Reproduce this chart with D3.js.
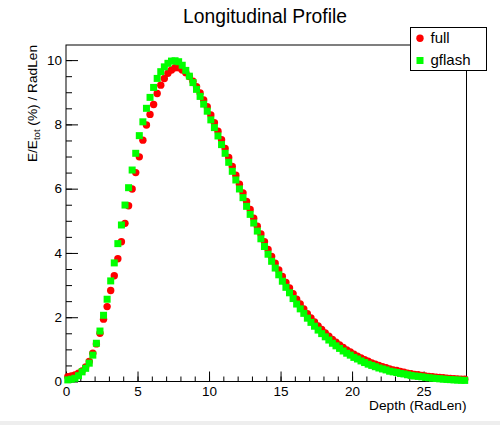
<!DOCTYPE html>
<html>
<head>
<meta charset="utf-8">
<script src="https://cdn.jsdelivr.net/npm/d3@7"></script>
<style>
  body { margin: 0; background: #fff; }
  text { font-family: "Liberation Sans", Arial, sans-serif; }
</style>
</head>
<body>
<div id="svgzone"></div>
<script>
// bins of 0.25 RadLen from 0 to 28, values in % per RadLen
let binWidth = 0.25;

let fullValues = [0.15, 0.17, 0.20, 0.26, 0.33, 0.45, 0.62, 0.88, 1.17, 1.50,
    1.94, 2.33, 2.83, 3.29, 3.82, 4.35, 4.92, 5.47, 5.99, 6.50,
    6.99, 7.51, 7.98, 8.31, 8.62, 8.96, 9.22, 9.43, 9.59, 9.69,
    9.76, 9.76, 9.69, 9.61, 9.49, 9.34, 9.17, 8.98, 8.76, 8.55,
    8.29, 8.05, 7.79, 7.52, 7.25, 6.97, 6.69, 6.42, 6.14, 5.87,
    5.60, 5.35, 5.08, 4.83, 4.59, 4.35, 4.11, 3.89, 3.68, 3.47,
    3.27, 3.08, 2.91, 2.73, 2.56, 2.41, 2.26, 2.11, 1.98, 1.85,
    1.73, 1.62, 1.51, 1.41, 1.31, 1.22, 1.14, 1.06, 0.98, 0.92,
    0.85, 0.79, 0.73, 0.68, 0.63, 0.58, 0.54, 0.50, 0.46, 0.43,
    0.39, 0.36, 0.34, 0.31, 0.29, 0.26, 0.24, 0.22, 0.21, 0.19,
    0.175, 0.16, 0.148, 0.136, 0.125, 0.115, 0.105, 0.097, 0.089, 0.082,
    0.075, 0.069];

let gflashValues = [0.05, 0.07, 0.10, 0.18, 0.30, 0.41, 0.57, 0.82, 1.19, 1.57,
    2.06, 2.56, 3.13, 3.69, 4.29, 4.87, 5.49, 6.03, 6.58, 7.10,
    7.65, 8.08, 8.50, 8.84, 9.15, 9.43, 9.64, 9.79, 9.90, 9.97,
    9.98, 9.95, 9.84, 9.68, 9.50, 9.30, 9.09, 8.87, 8.63, 8.41,
    8.14, 7.90, 7.64, 7.37, 7.10, 6.82, 6.54, 6.27, 5.99, 5.72,
    5.45, 5.20, 4.93, 4.68, 4.44, 4.20, 3.96, 3.74, 3.53, 3.32,
    3.12, 2.93, 2.76, 2.58, 2.41, 2.26, 2.12, 1.97, 1.84, 1.72,
    1.60, 1.49, 1.39, 1.29, 1.19, 1.11, 1.03, 0.95, 0.88, 0.82,
    0.75, 0.70, 0.64, 0.59, 0.54, 0.50, 0.46, 0.42, 0.39, 0.36,
    0.32, 0.30, 0.28, 0.25, 0.235, 0.21, 0.19, 0.17, 0.16, 0.145,
    0.13, 0.115, 0.104, 0.093, 0.083, 0.074, 0.065, 0.058, 0.051, 0.045,
    0.039, 0.034];

let xTicks = [0, 5, 10, 15, 20, 25];
let xMinorTicks = d3.range(0, 29, 1);
let yTicks = [0, 2, 4, 6, 8, 10];
let yMinorTicks = d3.range(0, 10.5, 0.5);
let legendKeys = ["full", "gflash"];

let W = 500, H = 425;
let frame = { left: 66, right: 466.5, top: 45, bottom: 381.5 };

let svg = d3.select("#svgzone")
    .append("svg")
    .attr("width", W)
    .attr("height", H);

svg.append("rect").attr("width", W).attr("height", H).attr("fill", "#fff");
svg.append("rect").attr("x", 0).attr("y", 421).attr("width", W).attr("height", 4).attr("fill", "#eeeeee");

let x = d3.scaleLinear().domain([0, 28]).range([frame.left, frame.right]);
let y = d3.scaleLinear().domain([0, 10.47]).range([frame.bottom, frame.top]);

// frame
svg.append("rect")
    .attr("x", frame.left)
    .attr("y", frame.top)
    .attr("width", frame.right - frame.left)
    .attr("height", frame.bottom - frame.top)
    .attr("fill", "none")
    .attr("stroke", "#000")
    .attr("stroke-width", 1);

// y axis, ticks pointing into the frame
let yAxis = svg.append("g").attr("transform", "translate(" + frame.left + ",0)");
yAxis.call(d3.axisLeft(y).tickValues(yMinorTicks).tickSize(-6).tickFormat(""));
yAxis.append("g").call(d3.axisLeft(y).tickValues(yTicks).tickSizeInner(-12).tickSizeOuter(0).tickPadding(4));
yAxis.selectAll(".domain").remove();

let xAxis = svg.append("g").attr("transform", "translate(0," + frame.bottom + ")");
xAxis.call(d3.axisBottom(x).tickValues(xMinorTicks).tickSize(-5).tickFormat(""));
xAxis.append("g").call(d3.axisBottom(x).tickValues(xTicks).tickSizeInner(-10).tickSizeOuter(0).tickPadding(5));
xAxis.selectAll(".domain").remove();

svg.selectAll(".tick line").attr("stroke", "#000");
svg.selectAll(".tick text")
    .attr("fill", "#000")
    .style("font-family", "Liberation Sans, Arial, sans-serif")
    .style("font-size", "13.5px");

// data points
let fullG = svg.append("g");
fullG.selectAll("circle")
    .data(fullValues)
    .enter()
    .append("circle")
    .attr("cx", function (d, i) { return x((i + 0.5) * binWidth) })
    .attr("cy", function (d) { return y(d) })
    .attr("r", 3.7)
    .style("fill", "#ff0000");

let sq = 7;
let gflashG = svg.append("g");
gflashG.selectAll("rect")
    .data(gflashValues)
    .enter()
    .append("rect")
    .attr("x", function (d, i) { return x((i + 0.5) * binWidth) - sq / 2 })
    .attr("y", function (d) { return y(d) - sq / 2 })
    .attr("width", sq)
    .attr("height", sq)
    .style("fill", "#00ff00");

// title
svg.append("text")
    .attr("x", 265)
    .attr("y", 23)
    .attr("text-anchor", "middle")
    .style("font-size", "19.3px")
    .text("Longitudinal Profile");

// axis titles
svg.append("text")
    .attr("x", frame.right)
    .attr("y", 410)
    .attr("text-anchor", "end")
    .style("font-size", "13.7px")
    .text("Depth (RadLen)");

let yTitle = svg.append("text")
    .attr("transform", "translate(36.5," + frame.top + ") rotate(-90)")
    .attr("text-anchor", "end")
    .style("font-size", "13.7px");
yTitle.append("tspan").text("E/E");
yTitle.append("tspan").attr("dy", 3).style("font-size", "9.5px").text("tot");
yTitle.append("tspan").attr("dy", -3).text(" (%) / RadLen");

// legend
let legend = svg.append("g");
legend.append("rect")
    .attr("x", 410.5)
    .attr("y", 27.5)
    .attr("width", 76)
    .attr("height", 43)
    .attr("fill", "#fff")
    .attr("stroke", "#000")
    .attr("stroke-width", 1);

legend.append("circle")
    .attr("cx", 420)
    .attr("cy", 38.3)
    .attr("r", 3.7)
    .style("fill", "#ff0000");
legend.append("rect")
    .attr("x", 420 - sq / 2)
    .attr("y", 60.5 - sq / 2)
    .attr("width", sq)
    .attr("height", sq)
    .style("fill", "#00ff00");

legend.selectAll("legendLabels")
    .data(legendKeys)
    .enter()
    .append("text")
    .attr("x", 430.5)
    .attr("y", function (d, i) { return 42.5 + i * 22 })
    .style("font-size", "15px")
    .text(function (d) { return d });
</script>
</body>
</html>
